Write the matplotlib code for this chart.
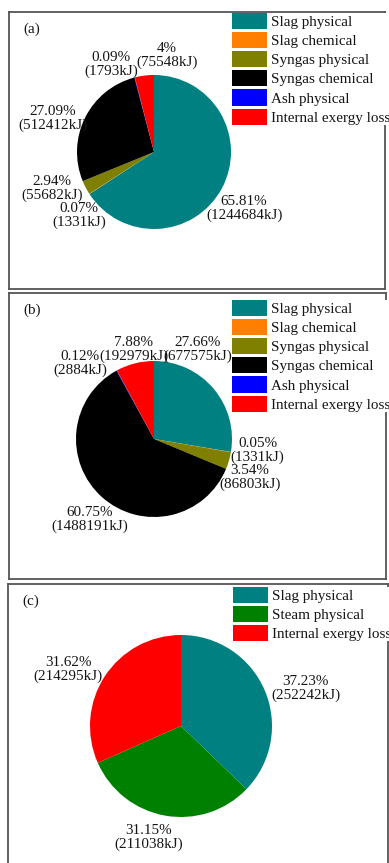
import matplotlib
matplotlib.use('Agg')
import matplotlib.pyplot as plt

W, H = 389, 863

plt.rcParams['font.family'] = ['Liberation Serif', 'DejaVu Serif']
plt.rcParams['font.size'] = 10.9
plt.rcParams['text.color'] = '#151515'

# exergy streams, kJ
cats_ab = ['Slag physical', 'Slag chemical', 'Syngas physical',
           'Syngas chemical', 'Ash physical', 'Internal exergy loss']
kj_a = [1244684, 1331, 55682, 512412, 1793, 75548]
pct_a = ['65.81%', '0.07%', '2.94%', '27.09%', '0.09%', '4%']

kj_b = [677575, 1331, 86803, 1488191, 2884, 192979]
pct_b = ['27.66%', '0.05%', '3.54%', '60.75%', '0.12%', '7.88%']

cats_c = ['Slag physical', 'Steam physical', 'Internal exergy loss']
kj_c = [252242, 211038, 214295]
pct_c = ['37.23%', '31.15%', '31.62%']

colours = {
    'Slag physical': '#008080',
    'Slag chemical': '#ff8000',
    'Syngas physical': '#808000',
    'Syngas chemical': '#000000',
    'Ash physical': '#0000ff',
    'Internal exergy loss': '#ff0000',
    'Steam physical': '#008000',
}

fig = plt.figure(figsize=(W / 100, H / 100), dpi=100)


def panel(box, tag, cats, kj, pct, centre, radius, label_pos, legend_xy):
    # box / centre / legend_xy in pixels measured from the top-left corner
    x0, y0, x1, y1 = box
    ax = fig.add_axes([x0 / W, 1 - y1 / H, (x1 - x0) / W, (y1 - y0) / H])
    cx, cy = centre[0], H - centre[1]
    wedges, _ = ax.pie(kj, colors=[colours[c] for c in cats], startangle=90,
                       counterclock=False, center=(cx, cy), radius=radius,
                       frame=True, wedgeprops=dict(linewidth=0))
    ax.set_xlim(x0, x1)
    ax.set_ylim(H - y1, H - y0)
    ax.set_aspect('equal')
    ax.set_xticks([])
    ax.set_yticks([])
    for s in ax.spines.values():
        s.set_color('#555555')
        s.set_linewidth(1.3)

    for p, v, (dx, dy) in zip(pct, kj, label_pos):
        ax.text(cx + dx * radius, cy + dy * radius, f'{p}\n({v}kJ)',
                ha='center', va='center', linespacing=1.05)

    ax.text(x0 + 14, H - (y0 + 17), tag, ha='left', va='center')

    ax.legend(wedges, cats, loc='upper left',
              bbox_to_anchor=(legend_xy[0] / W, 1 - legend_xy[1] / H),
              bbox_transform=fig.transFigure, frameon=True,
              facecolor='white', edgecolor='none', framealpha=1,
              fancybox=False, borderpad=0, borderaxespad=0,
              handlelength=2.3, handleheight=1.25, handletextpad=0.3,
              labelspacing=0.2)
    return ax


panel((9, 12, 385, 289), '(a)', cats_ab, kj_a, pct_a, (154, 152), 77,
      [(1.17, -0.74), (-0.97, -0.83), (-1.32, -0.48),
       (-1.31, 0.43), (-0.56, 1.13), (0.17, 1.25)],
      (232, 13))

panel((9, 293, 386, 579), '(b)', cats_ab, kj_b, pct_b, (154, 439), 78,
      [(0.56, 1.15), (1.33, -0.15), (1.23, -0.49),
       (-0.82, -1.03), (-0.95, 0.97), (-0.26, 1.15)],
      (232, 300))

panel((8, 584, 388, 870), '(c)', cats_c, kj_c, pct_c, (181, 726), 91,
      [(1.37, 0.41), (-0.36, -1.22), (-1.24, 0.62)],
      (233, 587))

fig.savefig('out.png', dpi=100)
